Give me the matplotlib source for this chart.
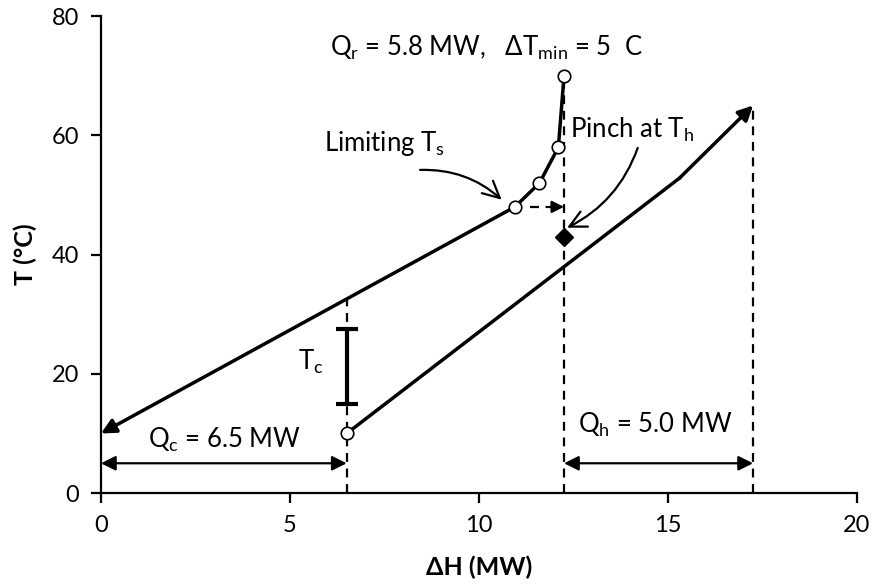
import matplotlib
matplotlib.use('Agg')
import matplotlib.pyplot as plt

plt.rcParams['font.family'] = ['Lato', 'DejaVu Sans']
plt.rcParams['mathtext.default'] = 'regular'

# hot composite (heat source) points, from top down
hot_h = [12.25, 12.1, 11.6, 10.95]
hot_t = [70, 58, 52, 48]
hot_end = (0, 10)

# cold composite points
cold_h = [6.5, 15.3]
cold_t = [10, 52.8]
cold_end = (17.25, 65)

pinch = (12.25, 43)
q_c = 6.5
q_h_start, q_h_end = 12.25, 17.25
tc_low, tc_high = 15, 27.5

fig = plt.figure(figsize=(8.72, 5.87), dpi=100)
ax = fig.add_axes([0.1158, 0.160, 0.867, 0.8126])

k = 'black'
# dashed verticals
ax.plot([q_c, q_c], [0, 32.5], '--', color=k, lw=1.6, dashes=(4, 3))
ax.plot([q_h_start, q_h_start], [0, 70], '--', color=k, lw=1.6, dashes=(4, 3))
ax.plot([q_h_end, q_h_end], [0, 65], '--', color=k, lw=1.6, dashes=(4, 3))

# hot curve
ax.plot(hot_h, hot_t, color=k, lw=2.5, zorder=3)
ax.annotate('', xy=hot_end, xytext=(hot_h[-1], hot_t[-1]),
            arrowprops=dict(arrowstyle='-|>', lw=2.5, color=k, mutation_scale=22,
                            shrinkA=0, shrinkB=0))
ax.plot(hot_h, hot_t, 'o', ms=9, mfc='white', mec=k, mew=1.2, zorder=4)

# cold curve
ax.plot(cold_h, cold_t, color=k, lw=2.5, zorder=3)
ax.annotate('', xy=cold_end, xytext=(cold_h[-1], cold_t[-1]),
            arrowprops=dict(arrowstyle='-|>', lw=2.5, color=k, mutation_scale=22,
                            shrinkA=0, shrinkB=0))
ax.plot(cold_h[0], cold_t[0], 'o', ms=9, mfc='white', mec=k, mew=1.2, zorder=4)

# pinch diamond
ax.plot(*pinch, 'D', ms=9, color=k, zorder=4)

# dashed shift arrow at limiting Ts
ax.plot([11.35, 12.0], [48, 48], '--', color=k, lw=1.6, dashes=(4, 3))
ax.annotate('', xy=(12.25, 48), xytext=(11.9, 48),
            arrowprops=dict(arrowstyle='-|>', lw=1.6, color=k, mutation_scale=18,
                            shrinkA=0, shrinkB=0))

# Tc bar
ax.errorbar(q_c, (tc_low + tc_high) / 2, yerr=(tc_high - tc_low) / 2, color=k,
            lw=3, capsize=8, capthick=3)

# Q arrows
ax.annotate('', xy=(0, 5), xytext=(q_c, 5),
            arrowprops=dict(arrowstyle='<|-|>', lw=1.6, color=k, mutation_scale=22,
                            shrinkA=0, shrinkB=0))
ax.annotate('', xy=(q_h_start, 5), xytext=(q_h_end, 5),
            arrowprops=dict(arrowstyle='<|-|>', lw=1.6, color=k, mutation_scale=22,
                            shrinkA=0, shrinkB=0))

fs = 18.5
ax.text(3.28, 8.9, 'Q$_c$ = 6.5 MW', fontsize=fs, ha='center', va='center')
ax.text(14.66, 11.4, 'Q$_h$ = 5.0 MW', fontsize=fs, ha='center', va='center')
ax.text(5.9, 22, 'T$_c$', fontsize=fs, ha='right', va='center')
ax.text(10.2, 74.7, 'Q$_r$ = 5.8 MW,   ΔT$_{min}$ = 5  C', fontsize=fs,
        ha='center', va='center')

# callouts with curved arrows
ax.text(7.5, 58.7, 'Limiting T$_s$', fontsize=fs, ha='center', va='center')
ax.annotate('', xy=(10.6, 49.2), xytext=(8.44, 54.2),
            arrowprops=dict(arrowstyle='->', lw=1.6, color=k, mutation_scale=30,
                            connectionstyle='arc3,rad=-0.2', shrinkA=0, shrinkB=0))
ax.text(12.4, 60.9, 'Pinch at T$_h$', fontsize=fs, ha='left', va='center')
ax.annotate('', xy=(12.33, 44.5), xytext=(14.2, 57.9),
            arrowprops=dict(arrowstyle='->', lw=1.6, color=k, mutation_scale=30,
                            connectionstyle='arc3,rad=-0.2', shrinkA=0, shrinkB=0))

ax.set_xlim(0, 20)
ax.set_ylim(0, 80)
ax.set_xticks([0, 5, 10, 15, 20])
ax.set_yticks([0, 20, 40, 60, 80])
ax.tick_params(labelsize=17, width=1.6, length=7, direction='out', pad=9)
for s in ['top', 'right']:
    ax.spines[s].set_visible(False)
for s in ['left', 'bottom']:
    ax.spines[s].set_linewidth(1.6)
ax.set_xlabel('ΔH (MW)', fontsize=18, fontweight='bold', labelpad=14)
ax.set_ylabel('T (°C)', fontsize=18, fontweight='bold', labelpad=10)

fig.savefig('out.png', dpi=100)
